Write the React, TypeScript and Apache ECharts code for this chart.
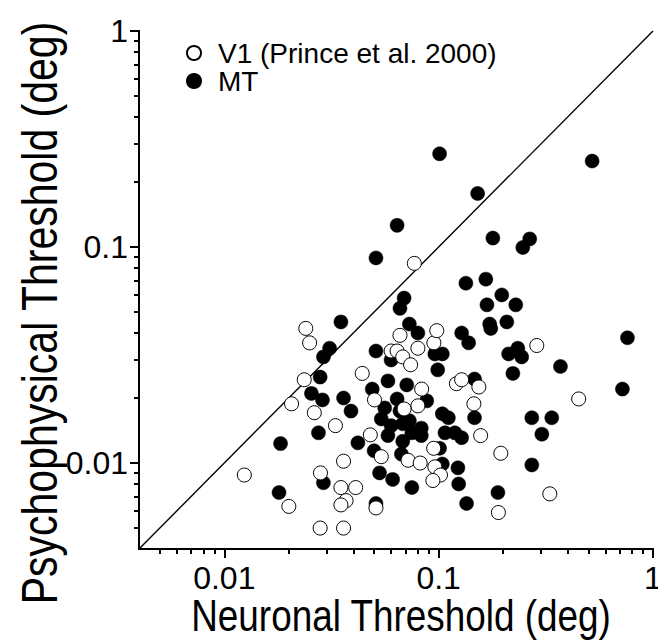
import React, { useEffect, useRef } from 'react';
import * as echarts from 'echarts';

// MT neurons: [neuronal threshold (deg), psychophysical threshold (deg)]
const mtPoints: number[][] = [
  [0.101, 0.27], [0.52, 0.25], [0.152, 0.177], [0.064, 0.126], [0.051, 0.089],
  [0.179, 0.11], [0.247, 0.0995], [0.266, 0.109], [0.134, 0.068], [0.166, 0.071],
  [0.197, 0.06], [0.168, 0.054], [0.229, 0.054], [0.173, 0.044], [0.175, 0.042],
  [0.208, 0.045], [0.069, 0.058], [0.066, 0.052], [0.035, 0.045], [0.073, 0.044],
  [0.08, 0.04], [0.128, 0.04], [0.138, 0.036], [0.234, 0.034], [0.212, 0.032],
  [0.244, 0.031], [0.222, 0.026], [0.37, 0.028], [0.76, 0.038], [0.72, 0.022],
  [0.031, 0.034], [0.029, 0.031], [0.028, 0.025], [0.0255, 0.021], [0.0287, 0.0196],
  [0.036, 0.02], [0.039, 0.0174], [0.0275, 0.0138], [0.051, 0.033], [0.06, 0.03],
  [0.096, 0.032], [0.104, 0.032], [0.099, 0.027], [0.058, 0.024], [0.049, 0.022],
  [0.071, 0.023], [0.088, 0.0194], [0.056, 0.018], [0.054, 0.016], [0.066, 0.0174],
  [0.068, 0.0152], [0.073, 0.0157], [0.083, 0.0145], [0.083, 0.0134], [0.068, 0.0126],
  [0.058, 0.0134], [0.042, 0.0124], [0.05, 0.0114], [0.067, 0.011], [0.104, 0.0169],
  [0.111, 0.0162], [0.107, 0.0138], [0.119, 0.0138], [0.128, 0.0131], [0.147, 0.0245],
  [0.147, 0.0162], [0.101, 0.0117], [0.104, 0.0099], [0.123, 0.0095], [0.124, 0.008],
  [0.053, 0.009], [0.061, 0.0084], [0.075, 0.0077], [0.029, 0.0081], [0.051, 0.0065],
  [0.135, 0.0065], [0.189, 0.0073], [0.272, 0.0162], [0.337, 0.0162], [0.303, 0.0136],
  [0.272, 0.0098], [0.0183, 0.0123], [0.018, 0.0073], [0.064, 0.0198], [0.075, 0.0138],
  [0.06, 0.0149],
];

// V1 neurons (Prince et al. 2000)
const v1Points: number[][] = [
  [0.077, 0.084], [0.024, 0.042], [0.025, 0.036], [0.0236, 0.0243], [0.0206, 0.0188],
  [0.0263, 0.0171], [0.033, 0.0149], [0.044, 0.026], [0.036, 0.0102], [0.0281, 0.009],
  [0.035, 0.0077], [0.041, 0.0077], [0.037, 0.0067], [0.035, 0.0064], [0.028, 0.005],
  [0.036, 0.005], [0.02, 0.0063], [0.0124, 0.0088], [0.0502, 0.0196], [0.06, 0.033],
  [0.064, 0.033], [0.068, 0.031], [0.074, 0.0285], [0.066, 0.039], [0.08, 0.034],
  [0.095, 0.036], [0.098, 0.041], [0.0833, 0.022], [0.08, 0.0184], [0.069, 0.0178],
  [0.048, 0.0135], [0.054, 0.0107], [0.072, 0.0103], [0.082, 0.01], [0.0948, 0.0117],
  [0.096, 0.0096], [0.102, 0.0088], [0.094, 0.0083], [0.121, 0.0233], [0.128, 0.0243],
  [0.154, 0.0225], [0.146, 0.0188], [0.157, 0.0134], [0.195, 0.0111], [0.19, 0.0059],
  [0.051, 0.0062], [0.287, 0.035], [0.45, 0.0198], [0.33, 0.0072],
];

const unityLine: number[][] = [[0.004, 0.004], [1, 1]];
const axisMin = 0.004;
const axisMax = 1;
const majorTicks = [0.01, 0.1, 1];
const minorTicks = [
  0.005, 0.006, 0.007, 0.008, 0.009,
  0.02, 0.03, 0.04, 0.05, 0.06, 0.07, 0.08, 0.09,
  0.2, 0.3, 0.4, 0.5, 0.6, 0.7, 0.8, 0.9,
];
const seriesNames = ['V1 (Prince et al. 2000)', 'MT'];
const xTitle = 'Neuronal Threshold (deg)';
const yTitle = 'Psychophysical Threshold (deg)';

const FONT = '"Liberation Sans", Arial, sans-serif';
const NARROW = 0.82;

export default function App() {
  const ref = useRef<HTMLDivElement>(null);
  useEffect(() => {
    document.body.style.margin = '0';
    const chart = echarts.init(ref.current!, null, { renderer: 'svg' });
    const fmt = (v: number) => String(Number(Number(v).toPrecision(3)));
    const lineStyle = { color: '#000', width: 2 };
    const mainAxis = (dim: 'x' | 'y') => ({
      type: 'log',
      logBase: 10,
      min: axisMin,
      max: axisMax,
      position: dim === 'x' ? 'bottom' : 'left',
      axisLine: { show: true, lineStyle },
      axisTick: { show: true, inside: false, length: 9, lineStyle, customValues: majorTicks },
      axisLabel: {
        show: true,
        customValues: majorTicks,
        formatter: fmt,
        color: '#000',
        fontFamily: FONT,
        fontSize: 32,
        margin: dim === 'x' ? 13 : 11,
        hideOverlap: false,
      },
      splitLine: { show: false },
      minorTick: { show: false },
    });
    const minorAxis = (dim: 'x' | 'y') => ({
      type: 'log',
      logBase: 10,
      min: axisMin,
      max: axisMax,
      position: dim === 'x' ? 'bottom' : 'left',
      axisLine: { show: true, lineStyle },
      axisTick: { show: true, inside: false, length: 5, lineStyle, customValues: minorTicks },
      axisLabel: { show: false },
      splitLine: { show: false },
    });
    chart.setOption({
      animation: false,
      backgroundColor: '#fff',
      grid: { left: 139, right: 5, top: 31, bottom: 91, containLabel: false, outerBoundsMode: 'none' },
      legend: {
        data: seriesNames,
        orient: 'vertical',
        left: 186,
        top: 39,
        padding: 0,
        itemGap: 0,
        itemWidth: 38,
        itemHeight: 14,
        icon: 'circle',
        textStyle: { fontFamily: FONT, fontSize: 28, color: '#000' },
      },
      xAxis: [mainAxis('x'), minorAxis('x')],
      yAxis: [mainAxis('y'), minorAxis('y')],
      graphic: [
        {
          type: 'text',
          x: 401,
          y: 616,
          scaleX: NARROW,
          style: {
            text: xTitle,
            font: `45px ${FONT}`,
            fill: '#000',
            textAlign: 'center',
            textVerticalAlign: 'middle',
          },
        },
        {
          type: 'text',
          x: 40,
          y: 313,
          rotation: Math.PI / 2,
          scaleX: NARROW,
          style: {
            text: yTitle,
            font: `50px ${FONT}`,
            fill: '#000',
            textAlign: 'center',
            textVerticalAlign: 'middle',
          },
        },
      ],
      series: [
        {
          type: 'line',
          data: unityLine,
          xAxisIndex: 0,
          yAxisIndex: 0,
          symbol: 'none',
          silent: true,
          lineStyle: { color: '#000', width: 1.4 },
          z: 1,
        },
        {
          name: 'MT',
          type: 'scatter',
          data: mtPoints,
          xAxisIndex: 0,
          yAxisIndex: 0,
          symbol: 'circle',
          symbolSize: 14,
          itemStyle: { color: '#000', borderColor: '#000', borderWidth: 0.5, opacity: 1 },
          z: 2,
        },
        {
          name: 'V1 (Prince et al. 2000)',
          type: 'scatter',
          data: v1Points,
          xAxisIndex: 0,
          yAxisIndex: 0,
          symbol: 'circle',
          symbolSize: 14,
          itemStyle: { color: '#fff', borderColor: '#000', borderWidth: 1, opacity: 1 },
          z: 3,
        },
      ],
    });
    return () => chart.dispose();
  }, []);
  return <div ref={ref} style={{ width: 658, height: 640 }} />;
}
